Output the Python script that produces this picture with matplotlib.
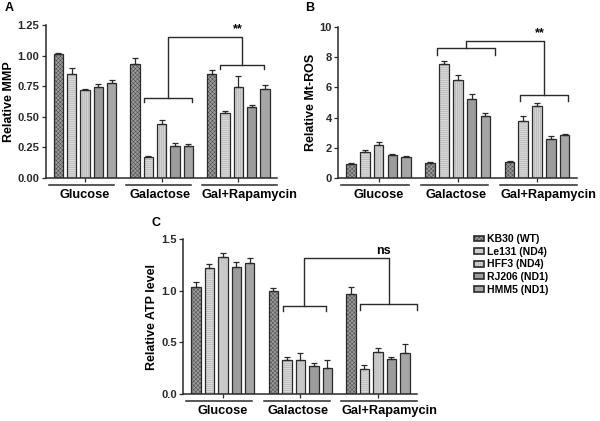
import numpy as np
import matplotlib
matplotlib.use("Agg")
import matplotlib.pyplot as plt
from matplotlib.patches import Patch
import matplotlib.transforms as mtransforms

plt.rcParams["font.family"] = ["Liberation Sans", "DejaVu Sans"]
plt.rcParams["font.weight"] = "bold"
plt.rcParams["hatch.linewidth"] = 0.35

groups = ["Glucose", "Galactose", "Gal+Rapamycin"]
lines = ["KB30 (WT)", "Le131 (ND4)", "HFF3 (ND4)", "RJ206 (ND1)", "HMM5 (ND1)"]

# panel A - relative MMP
mmp = [[1.01, 0.85, 0.72, 0.74, 0.78],
       [0.93, 0.17, 0.44, 0.26, 0.26],
       [0.85, 0.53, 0.74, 0.58, 0.73]]
mmp_err = [[0.01, 0.05, 0.01, 0.03, 0.02],
           [0.05, 0.01, 0.03, 0.03, 0.02],
           [0.03, 0.02, 0.09, 0.02, 0.03]]

# panel B - relative Mt-ROS
ros = [[0.9, 1.75, 2.2, 1.55, 1.4],
       [1.0, 7.55, 6.5, 5.2, 4.1],
       [1.05, 3.8, 4.8, 2.55, 2.85]]
ros_err = [[0.1, 0.1, 0.2, 0.05, 0.05],
           [0.05, 0.2, 0.35, 0.35, 0.2],
           [0.05, 0.3, 0.15, 0.2, 0.05]]

# panel C - relative ATP level
atp = [[1.04, 1.22, 1.33, 1.23, 1.27],
       [1.00, 0.33, 0.33, 0.27, 0.25],
       [0.97, 0.24, 0.41, 0.34, 0.40]]
atp_err = [[0.04, 0.04, 0.03, 0.05, 0.05],
           [0.03, 0.03, 0.07, 0.03, 0.08],
           [0.07, 0.04, 0.04, 0.02, 0.08]]

colors = ["#9a9a9a", "#dadada", "#d2d2d2", "#9c9c9c", "#a6a6a6"]
hatches = ["xxxxxxxx", "--------", "||||||||", None, None]
hcolors = ["#4a4a4a", "#a2a2a2", "#a8a8a8", "#9c9c9c", "#a6a6a6"]
edge = "#2a2a2a"
gstep = 5.75
width = 0.7
label_x = [2.0, 7.6, 14.35]


def draw_panel(ax, vals, errs, ylim, yticks, fmt, ylabel, br):
    for g in range(3):
        for i in range(5):
            x = g * gstep + i
            ax.bar(x, vals[g][i], width, color=colors[i], hatch=hatches[i],
                   edgecolor=hcolors[i], linewidth=0, zorder=2)
            ax.bar(x, vals[g][i], width, fill=False, edgecolor=edge,
                   linewidth=0.9, zorder=2.5)
            ax.errorbar(x, vals[g][i], yerr=[[0], [errs[g][i]]], fmt="none",
                        ecolor=edge, elinewidth=0.9, capsize=2.5, capthick=0.9, zorder=3)
    ax.set_xlim(-0.95, 16.4)
    ax.set_ylim(*ylim)
    ax.set_yticks(yticks)
    ax.set_yticklabels([fmt % t for t in yticks], fontsize=8, fontweight="bold")
    ax.set_ylabel(ylabel, fontsize=9, fontweight="bold", labelpad=2)
    centers = [g * gstep + 2 for g in range(3)]
    ax.set_xticks(centers)
    ax.set_xticklabels([])
    ax.tick_params(axis="both", direction="out", length=3, width=0.9, pad=1.5, colors=edge)
    for s in ["top", "right"]:
        ax.spines[s].set_visible(False)
    for s in ["left", "bottom"]:
        ax.spines[s].set_linewidth(1.1)
        ax.spines[s].set_color(edge)
    trans = mtransforms.blended_transform_factory(ax.transData, ax.transAxes)
    for g in range(3):
        x0 = g * gstep - 0.7
        x1 = g * gstep + 4.2 + (0.7 if g == 2 else 0)
        ax.plot([x0, x1], [-0.045, -0.045], color=edge, lw=1.1,
                transform=trans, clip_on=False)
        ax.text(label_x[g], -0.11, groups[g], transform=trans,
                ha="center", va="center", fontsize=9.2, fontweight="bold")
    # significance brackets
    (ax0, ax1, ay, ad), (bx0, bx1, by, bd), top, star, sx, sy = br
    am = (ax0 + ax1) / 2
    bm = (bx0 + bx1) / 2
    kw = dict(color=edge, lw=1.0, clip_on=False, zorder=4)
    ax.plot([ax0, ax0, ax1, ax1], [ay - ad, ay, ay, ay - ad], **kw)
    ax.plot([bx0, bx0, bx1, bx1], [by - bd, by, by, by - bd], **kw)
    ax.plot([am, am, bm, bm], [ay, top, top, by], **kw)
    ax.text(sx, sy, star, ha="center", va="center", fontsize=9, fontweight="bold")


fig = plt.figure(figsize=(6, 4.21), dpi=100)
axA = fig.add_axes([45.5 / 600, 243 / 421, 231.5 / 600, 153 / 421])
axB = fig.add_axes([338 / 600, 243 / 421, 239 / 600, 151 / 421])
axC = fig.add_axes([183 / 600, 27 / 421, 234 / 600, 155 / 421])

draw_panel(axA, mmp, mmp_err, (0, 1.25), [0, 0.25, 0.5, 0.75, 1.0, 1.25], "%.2f",
           "Relative MMP",
           ((6.45, 10.05, 0.65, 0.03), (12.1, 15.45, 0.92, 0.03), 1.15, "**", 13.5, 1.22))
draw_panel(axB, ros, ros_err, (0, 10), [0, 2, 4, 6, 8, 10], "%d",
           "Relative Mt-ROS",
           ((6.25, 10.45, 8.6, 0.45), (12.25, 15.75, 5.5, 0.4), 9.1, "**", 13.7, 9.6))
draw_panel(axC, atp, atp_err, (0, 1.5), [0, 0.5, 1.0, 1.5], "%.1f",
           "Relative ATP level",
           ((6.45, 9.65, 0.85, 0.05), (12.2, 16.4, 0.87, 0.06), 1.32, "ns", 13.9, 1.38))

fig.text(5 / 600, 1 - 8 / 421, "A", fontsize=9, fontweight="bold", va="center")
fig.text(305 / 600, 1 - 8 / 421, "B", fontsize=9, fontweight="bold", va="center")
fig.text(152 / 600, 1 - 223 / 421, "C", fontsize=9, fontweight="bold", va="center")

handles = [(Patch(facecolor=colors[i], hatch=hatches[i], edgecolor=hcolors[i], linewidth=0),
            Patch(fill=False, edgecolor=edge, linewidth=1.2))
           for i in range(5)]
fig.legend(handles, lines, loc="upper left", bbox_to_anchor=(469 / 600, 1 - 229 / 421),
           frameon=False, borderpad=0, handlelength=0.9, handleheight=0.5,
           handletextpad=0.35, labelspacing=0.25, prop=dict(size=7.5, weight="bold"))

fig.savefig("out.png", dpi=100)
